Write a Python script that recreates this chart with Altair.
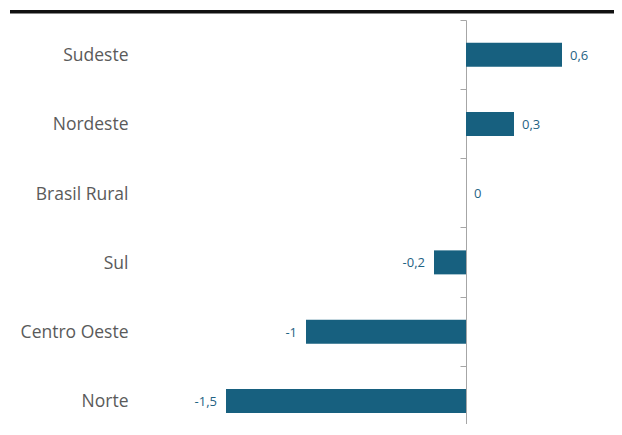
import altair as alt
import pandas as pd

categories = ["Sudeste", "Nordeste", "Brasil Rural", "Sul", "Centro Oeste", "Norte"]
values = [0.6, 0.3, 0.0, -0.2, -1.0, -1.5]
value_labels = ["0,6", "0,3", "0", "-0,2", "-1", "-1,5"]

df = pd.DataFrame({"regiao": categories, "valor": values, "rotulo": value_labels})

BAR = "#17607f"
TXT = "#1f6384"

ysc = alt.Scale(domain=categories, range=[0, 415.5], paddingInner=0, paddingOuter=0)
xsc = alt.Scale(domain=[-2, 0.925], nice=False, zero=False)

base = alt.Chart(df)

bars = base.mark_bar(size=24, color=BAR).encode(
    x=alt.X("valor:Q", scale=xsc, axis=None),
    y=alt.Y(
        "regiao:N",
        scale=ysc,
        sort=categories,
        axis=alt.Axis(
            title=None,
            orient="left",
            offset=-320,
            domainColor="#a6a6a6",
            domainWidth=1,
            tickColor="#a6a6a6",
            tickSize=6,
            tickWidth=1,
            bandPosition=0,
            labelPadding=332,
            labelOffset=1.5,
            labelFont="Open Sans",
            labelFontSize=17.5,
            labelColor="#5a5a5a",
            labelAlign="right",
            labelBaseline="middle",
        ),
    ),
)

pos_text = base.transform_filter("datum.valor >= 0").mark_text(
    align="left", baseline="middle", dx=8, dy=1, font="Open Sans", fontSize=13, color=TXT
).encode(
    x=alt.X("valor:Q", scale=xsc),
    y=alt.Y("regiao:N", scale=ysc, sort=categories),
    text="rotulo:N",
)

neg_text = base.transform_filter("datum.valor < 0").mark_text(
    align="right", baseline="middle", dx=-9, dy=1, font="Open Sans", fontSize=13, color=TXT
).encode(
    x=alt.X("valor:Q", scale=xsc),
    y=alt.Y("regiao:N", scale=ysc, sort=categories),
    text="rotulo:N",
)

top_rule = alt.Chart(pd.DataFrame({"k": [0]})).mark_rule(color="#111111", strokeWidth=3.6).encode(
    x=alt.value(-136), x2=alt.value(468), y=alt.value(-8.2)
)

chart = (
    alt.layer(bars, pos_text, neg_text, top_rule)
    .properties(
        width=468,
        height=404,
        autosize=alt.AutoSizeParams(type="none"),
        padding={"left": 138, "top": 12, "right": 0, "bottom": 0},
    )
    .configure_view(stroke=None)
)

chart.save("out.html", embed_options={"renderer": "svg", "actions": False})
